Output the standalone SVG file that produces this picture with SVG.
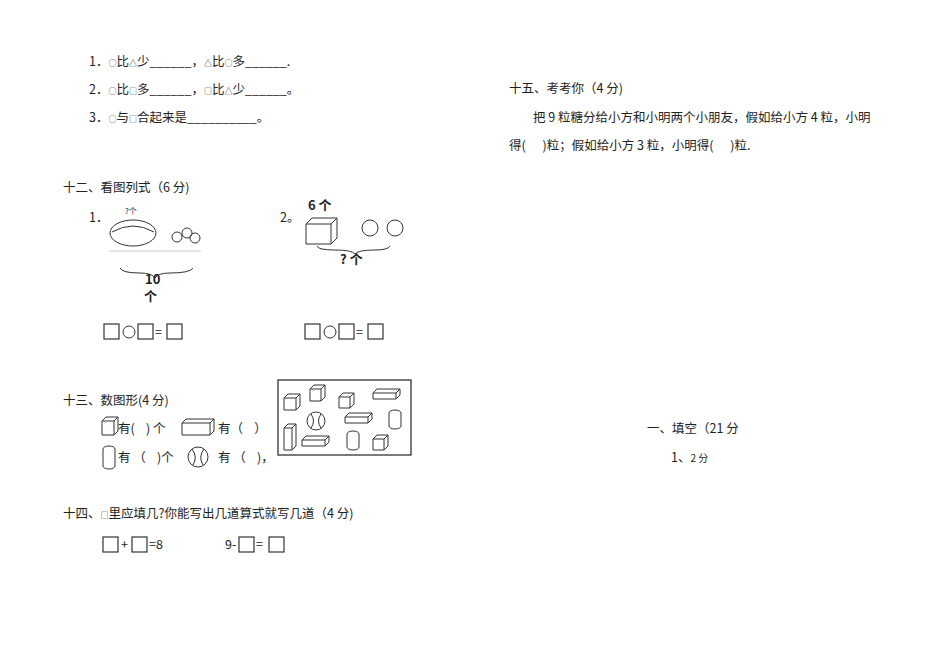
<svg xmlns="http://www.w3.org/2000/svg" width="950" height="668" viewBox="0 0 950 668">
<style>
text{font-family:"Noto Sans CJK SC","Noto Sans",sans-serif;font-size:12.5px;fill:#222}
.b{font-weight:bold;font-size:13px}
.t{font-size:8px}
.s{fill:none;stroke:#333;stroke-width:1}
.bx{fill:none;stroke:#333;stroke-width:1.2}
</style>
<rect width="950" height="668" fill="#fff"/>
<text x="89" y="66">1．<tspan class="t">○</tspan>比<tspan class="t">△</tspan>少______，<tspan class="t">△</tspan>比<tspan class="t">○</tspan>多______.</text>
<text x="89" y="94">2．<tspan class="t">○</tspan>比<tspan class="t">□</tspan>多______，<tspan class="t">□</tspan>比<tspan class="t">△</tspan>少______。</text>
<text x="89" y="122">3．<tspan class="t">○</tspan>与<tspan class="t">□</tspan>合起来是__________。</text>
<text x="509" y="93">十五、考考你（4 分)</text>
<text x="533" y="122">把 9 粒糖分给小方和小明两个小朋友，假如给小方 4 粒，小明</text>
<text x="509" y="150">得(&#160;&#160;&#160;&#160;&#160;&#160;)粒；假如给小方 3 粒，小明得(&#160;&#160;&#160;&#160;&#160;&#160;)粒.</text>
<text x="63" y="192">十二、看图列式（6 分)</text>
<text x="89" y="222">1．</text>
<g id="pic1">
<text x="125" y="214" class="t">?个</text>
<ellipse cx="133" cy="233" rx="23" ry="13" class="s" fill="#ddd"/>
<path d="M112 232 Q133 220 154 232" class="s"/>
<circle cx="177" cy="237" r="5" class="s"/><circle cx="187" cy="233" r="5" class="s"/><circle cx="195" cy="238" r="5" class="s"/>
<line x1="109" y1="251" x2="201" y2="251" stroke="#ccc"/>
<path d="M120 268 Q122 273 140 273 Q152 273 155 278 Q158 273 170 273 Q190 273 193 268" class="s"/>
<text x="145" y="284" class="b">10</text>
<text x="144" y="301" class="b">个</text>
</g>
<text x="280" y="222">2。</text>
<g id="pic2">
<text x="308" y="210" class="b">6 个</text>
<path d="M306 224 L331 224 L331 244 L306 244 Z M306 224 L312 218 L337 218 L331 224 M337 218 L337 238 L331 244" class="s"/>
<circle cx="370" cy="228" r="8" class="s"/><circle cx="395" cy="228" r="8" class="s"/>
<path d="M317 246 Q318 250 335 250 Q352 250 355 254 Q358 250 375 250 Q388 250 390 246" class="s"/>
<text x="340" y="264" class="b">? 个</text>
</g>
<g id="eq1">
<rect x="104" y="324" width="15" height="15" class="bx"/><circle cx="129" cy="332" r="6" class="s"/><rect x="138" y="324" width="15" height="15" class="bx"/><text x="155" y="337">=</text><rect x="167" y="324" width="15" height="15" class="bx"/>
</g>
<g id="eq2">
<rect x="305" y="324" width="15" height="15" class="bx"/><circle cx="330" cy="332" r="6" class="s"/><rect x="339" y="324" width="15" height="15" class="bx"/><text x="356" y="337">=</text><rect x="368" y="324" width="15" height="15" class="bx"/>
</g>
<text x="63" y="405">十三、数图形(4 分)</text>
<g id="shapes">
<path d="M102 421 L114 421 L114 435 L102 435 Z M102 421 L106 417 L118 417 L114 421 M118 417 L118 431 L114 435" class="s"/>
<text x="118" y="433">有(&#160;&#160;&#160;&#160;) 个</text>
<path d="M182 423 L210 423 L210 435 L182 435 Z M182 423 L186 419 L214 419 L210 423 M214 419 L214 431 L210 435" class="s"/>
<text x="218" y="433">有（&#160;&#160;&#160;&#160;）</text>
<rect x="103" y="446" width="12" height="23" rx="6" ry="3" class="s"/>
<text x="118" y="462">有 （&#160;&#160;&#160;&#160;)个</text>
<circle cx="198" cy="457" r="10" class="s"/><path d="M192 449 Q198 457 193 465 M204 449 Q198 457 203 465" class="s"/>
<text x="218" y="462">有 （&#160;&#160;&#160;&#160;)，</text>
</g>
<g id="figbox">
<rect x="278" y="380" width="133" height="75" fill="none" stroke="#333" stroke-width="1.3"/>
<g class="s">
<path d="M284 398 h12 v12 h-12z M284 398 l4 -4 h12 l-4 4 M300 394 v12 l-4 4"/>
<path d="M310 389 h11 v12 h-11z M310 389 l4 -4 h11 l-4 4 M325 385 v12 l-4 4"/>
<path d="M339 397 h11 v11 h-11z M339 397 l4 -4 h11 l-4 4 M354 393 v11 l-4 4"/>
<path d="M373 393 h23 v6 h-23z M373 393 l4 -4 h23 l-4 4 M400 389 v6 l-4 4"/>
<circle cx="316" cy="421" r="9"/><path d="M311 414 Q316 421 311 428 M321 414 Q316 421 321 428"/>
<path d="M345 417 h23 v6 h-23z M345 417 l4 -4 h23 l-4 4 M372 413 v6 l-4 4"/>
<rect x="389" y="410" width="12" height="19" rx="6" ry="3"/>
<path d="M284 428 h8 v22 h-8z M284 428 l4 -4 h8 l-4 4 M296 424 v22 l-4 4"/>
<path d="M302 440 h23 v6 h-23z M302 440 l4 -4 h23 l-4 4 M329 436 v6 l-4 4"/>
<rect x="347" y="431" width="12" height="19" rx="6" ry="3"/>
<path d="M373 439 h11 v11 h-11z M373 439 l4 -4 h11 l-4 4 M388 435 v11 l-4 4"/>
</g>
</g>
<text x="647" y="433">一、填空（21 分</text>
<text x="671" y="462" font-size="14">1、<tspan font-size="10">2 分</tspan></text>
<text x="63" y="518">十四、<tspan class="t">□</tspan>里应填几?你能写出几道算式就写几道（4 分)</text>
<g id="eq3">
<rect x="103" y="537" width="15" height="15" class="bx"/><text x="121" y="549">+</text><rect x="132" y="537" width="15" height="15" class="bx"/><text x="149" y="549">=8</text>
<text x="225" y="549">9-</text><rect x="239" y="537" width="15" height="15" class="bx"/><text x="256" y="549">=</text><rect x="269" y="537" width="15" height="15" class="bx"/>
</g>
</svg>
